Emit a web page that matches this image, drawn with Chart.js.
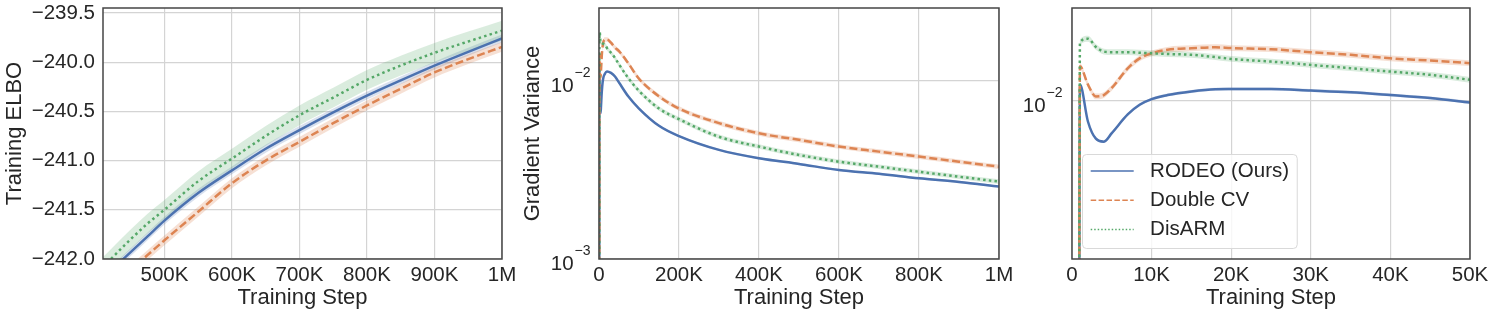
<!DOCTYPE html>
<html>
<head>
<meta charset="utf-8">
<script src="https://cdn.jsdelivr.net/npm/chart.js@4.4.0/dist/chart.umd.min.js"></script>
<style>
    html, body { margin: 0; padding: 0; background: #fff; }
    #wrap { position: relative; width: 1495px; height: 317px; }
    canvas { position: absolute; top: 0; }
</style>
</head>
<body>
<div id="wrap">
    <canvas id="elboChart" width="520" height="317" style="left:0"></canvas>
    <canvas id="varChart" width="500" height="317" style="left:520px"></canvas>
    <canvas id="zoomChart" width="475" height="317" style="left:1020px"></canvas>
</div>
<script>
const seriesNames = ['RODEO (Ours)', 'Double CV', 'DisARM'];

// Panel 1: training ELBO, 409K - 1M steps
const elboSteps = [409000, 425000, 450000, 475000, 500000, 550000, 600000, 650000, 700000, 750000, 800000, 850000, 900000, 950000, 1000000];
const elboRodeo = [-242.20, -242.09, -241.93, -241.77, -241.61, -241.33, -241.10, -240.88, -240.69, -240.51, -240.34, -240.185, -240.035, -239.895, -239.76];
const elboDoubleCV = [-242.38, -242.27, -242.11, -241.96, -241.81, -241.52, -241.23, -241.00, -240.81, -240.62, -240.44, -240.27, -240.105, -239.97, -239.845];
const elboDisarm = [-242.08, -241.97, -241.80, -241.64, -241.50, -241.21, -240.98, -240.75, -240.54, -240.36, -240.18, -240.035, -239.905, -239.79, -239.68];
const elboSpread = [0.04, 0.05, 0.10];
const elboYTicks = [-242.0, -241.5, -241.0, -240.5, -240.0, -239.5];
const elboYTickLabels = ['\u2212242.0', '\u2212241.5', '\u2212241.0', '\u2212240.5', '\u2212240.0', '\u2212239.5'];
const elboXTicks = [500000, 600000, 700000, 800000, 900000, 1000000];
const elboXTickLabels = ['500K', '600K', '700K', '800K', '900K', '1M'];

// Panel 2: gradient variance, full run
const varSteps = [700, 1000, 2000, 3000, 4000, 5000, 7000, 10000, 15000, 20000, 30000, 40000, 50000, 73000, 100000, 150000, 200000, 300000, 400000, 500000, 600000, 700000, 800000, 900000, 1000000];
const varRodeo = [0.0001, 0.0118, 0.0081, 0.0068, 0.0066, 0.0072, 0.0087, 0.0102, 0.0110, 0.0113, 0.0111, 0.0106, 0.0098, 0.0082, 0.0070, 0.0056, 0.0049, 0.0041, 0.00368, 0.00342, 0.00316, 0.00301, 0.00284, 0.00271, 0.00255];
const varDoubleCV = [0.0001, 0.0142, 0.0118, 0.01045, 0.0106, 0.0114, 0.0139, 0.0162, 0.0171, 0.0171, 0.0164, 0.0154, 0.0147, 0.0126, 0.0103, 0.0082, 0.0070, 0.0058, 0.00508, 0.00467, 0.00428, 0.00401, 0.00376, 0.00352, 0.0033];
const varDisarm = [0.0001, 0.0181, 0.0187, 0.0173, 0.0165, 0.0164, 0.0164, 0.0162, 0.0160, 0.0153, 0.0144, 0.01346, 0.0124, 0.0104, 0.0088, 0.0070, 0.0061, 0.00486, 0.00428, 0.00384, 0.00352, 0.0033, 0.00309, 0.0029, 0.00272];
const varSpread = [1.015, 1.03, 1.03];
const varXTicks = [0, 200000, 400000, 600000, 800000, 1000000];
const varXTickLabels = ['0', '200K', '400K', '600K', '800K', '1M'];
const varYTicks = [0.001, 0.01];
const varYTickExps = ['\u22123', '\u22122'];

// Panel 3: gradient variance, first 50K steps
const zoomSteps = [850, 1000, 2000, 3000, 4000, 5000, 7000, 8500, 10000, 12000, 15000, 18000, 20000, 25000, 30000, 35000, 40000, 45000, 50000];
const zoomRodeo = [0.0001, 0.0118, 0.0081, 0.0068, 0.0066, 0.0072, 0.0087, 0.0096, 0.01017, 0.0106, 0.0110, 0.01125, 0.01127, 0.01128, 0.0111, 0.0109, 0.0106, 0.01028, 0.00983];
const zoomDoubleCV = [0.0001, 0.0142, 0.0118, 0.01045, 0.0106, 0.0114, 0.0139, 0.0154, 0.0162, 0.0168, 0.01706, 0.01724, 0.0171, 0.0169, 0.0164, 0.01596, 0.0154, 0.01506, 0.01466];
const zoomDisarm = [0.0001, 0.0181, 0.0188, 0.0173, 0.0165, 0.0164, 0.0164, 0.0163, 0.0162, 0.0161, 0.01596, 0.0156, 0.01531, 0.0149, 0.01441, 0.01393, 0.01346, 0.01302, 0.01238];
const zoomXTicks = [0, 10000, 20000, 30000, 40000, 50000];
const zoomXTickLabels = ['0', '10K', '20K', '30K', '40K', '50K'];
const zoomYTicks = [0.01];
const zoomYTickExps = ['\u22122'];

const FONT = '"Liberation Sans", Arial, sans-serif';
const TEXT = '#262626';
const GRID = '#d4d4d4';
const FRAME = '#454545';
const COLORS = ['#4C72B0', '#DD8452', '#55A868'];
const BANDS = ['rgba(76,114,176,0.22)', 'rgba(221,132,82,0.25)', 'rgba(85,168,104,0.22)'];
const DASH = [[], [8, 3.5], [2.5, 3.2]];
const LEGEND_DASH = [[], [5.5, 2.4], [1.5, 2]];

Chart.defaults.font.family = FONT;
Chart.defaults.color = TEXT;

function toPoints(xs, ys) {
    return xs.map((x, i) => ({ x: x, y: ys[i] }));
}

/**
 * Line datasets (DisARM drawn on top) followed by the shaded bands.
 * log = true uses a multiplicative spread.
 */
function buildDatasets(xs, series, spreads, log) {
    const lines = [2, 1, 0].map(k => ({
        data: toPoints(xs, series[k]),
        borderColor: COLORS[k],
        borderWidth: 2.5,
        borderDash: DASH[k],
        borderCapStyle: 'butt',
        pointRadius: 0,
        fill: false,
        clip: 0,
        cubicInterpolationMode: 'monotone'
    }));
    const bands = [];
    [2, 1, 0].forEach(k => {
        const s = spreads[k];
        const lo = series[k].map(v => log ? v / s : v - s);
        const hi = series[k].map(v => log ? v * s : v + s);
        const common = { pointRadius: 0, borderWidth: 0, clip: 0, cubicInterpolationMode: 'monotone' };
        bands.push(Object.assign({ data: toPoints(xs, lo), fill: false }, common));
        bands.push(Object.assign({ data: toPoints(xs, hi), fill: '-1', backgroundColor: BANDS[k] }, common));
    });
    return lines.concat(bands);
}

function xAxis(ticks, labels, min, max) {
    return {
        type: 'linear',
        min: min,
        max: max,
        afterBuildTicks: s => { s.ticks = ticks.map(v => ({ value: v })); },
        afterFit: s => { s.height = 58; s.paddingLeft = 0; s.paddingRight = 0; },
        grid: { color: GRID, lineWidth: 1.2, drawTicks: false },
        border: { display: false },
        ticks: {
            padding: 4, color: TEXT, maxRotation: 0, autoSkip: false,
            font: { size: 20.5 },
            callback: (v, i) => labels[i]
        },
        title: { display: true, text: 'Training Step', color: TEXT, font: { size: 22 }, padding: { top: 0, bottom: 6 } }
    };
}

function logYAxis(ticks, min, max, width, title) {
    return {
        type: 'logarithmic',
        min: min,
        max: max,
        afterBuildTicks: s => { s.ticks = ticks.map(v => ({ value: v })); },
        afterFit: s => { s.width = width; s.paddingTop = 0; s.paddingBottom = 0; },
        grid: { color: GRID, lineWidth: 1.2, drawTicks: false },
        border: { display: false },
        ticks: { display: false },
        title: title
            ? { display: true, text: title, color: TEXT, font: { size: 22 }, padding: { top: 0 } }
            : { display: false }
    };
}

const framePlugin = {
    id: 'frame',
    afterDraw(chart) {
        const { ctx, chartArea: a } = chart;
        ctx.save();
        ctx.strokeStyle = FRAME;
        ctx.lineWidth = 1.5;
        ctx.strokeRect(a.left, a.top, a.right - a.left, a.bottom - a.top);
        ctx.restore();
    }
};

/**
 * Draws "10" with a raised exponent next to each log tick.
 */
function powerLabels(values, exps, gap) {
    return {
        id: 'powerLabels',
        afterDraw(chart) {
            const ctx = chart.ctx;
            const scale = chart.scales.y;
            const right = chart.chartArea.left - gap;
            ctx.save();
            ctx.fillStyle = TEXT;
            ctx.textAlign = 'left';
            ctx.textBaseline = 'alphabetic';
            values.forEach((v, i) => {
                const py = scale.getPixelForValue(v);
                ctx.font = '14px ' + FONT;
                const supW = ctx.measureText(exps[i]).width;
                ctx.font = '20.5px ' + FONT;
                const baseW = ctx.measureText('10').width;
                const x0 = right - supW - baseW - 1;
                ctx.fillText('10', x0, py + 11);
                ctx.font = '14px ' + FONT;
                ctx.fillText(exps[i], x0 + baseW + 1, py - 4);
            });
            ctx.restore();
        }
    };
}

const legendPlugin = {
    id: 'boxLegend',
    afterDraw(chart) {
        const { ctx, chartArea: a } = chart;
        const pad = 8.2, handle = 43, textGap = 16.4, rowH = 29.3;
        ctx.save();
        ctx.font = '20.5px ' + FONT;
        const textW = Math.max(...seriesNames.map(n => ctx.measureText(n).width));
        const w = pad + handle + textGap + textW + pad;
        const h = 94;
        const left = a.left + 10.5;
        const top = a.bottom - 10.5 - h;

        ctx.beginPath();
        ctx.roundRect(left, top, w, h, 4);
        ctx.fillStyle = 'rgba(255,255,255,0.8)';
        ctx.fill();
        ctx.strokeStyle = '#d9d9d9';
        ctx.lineWidth = 1;
        ctx.stroke();

        seriesNames.forEach((name, k) => {
            const y = top + 16.4 + k * rowH;
            ctx.beginPath();
            ctx.setLineDash(LEGEND_DASH[k]);
            ctx.strokeStyle = COLORS[k];
            ctx.lineWidth = 1.5;
            ctx.moveTo(left + pad, y);
            ctx.lineTo(left + pad + handle, y);
            ctx.stroke();
            ctx.setLineDash([]);
            ctx.fillStyle = TEXT;
            ctx.textAlign = 'left';
            ctx.textBaseline = 'middle';
            ctx.fillText(name, left + pad + handle + textGap, y);
        });
        ctx.restore();
    }
};

function baseOptions(padRight, scales) {
    return {
        responsive: false,
        animation: false,
        layout: { autoPadding: false, padding: { left: 0, right: padRight, top: 8, bottom: 0 } },
        plugins: { legend: { display: false }, tooltip: { enabled: false } },
        scales: scales
    };
}

function drawElboChart() {
    new Chart(document.getElementById('elboChart'), {
        type: 'line',
        data: { datasets: buildDatasets(elboSteps, [elboRodeo, elboDoubleCV, elboDisarm], elboSpread, false) },
        options: baseOptions(18, {
            x: xAxis(elboXTicks, elboXTickLabels, 409000, 1000000),
            y: {
                type: 'linear',
                min: -242.0,
                max: -239.45,
                afterBuildTicks: s => { s.ticks = elboYTicks.map(v => ({ value: v })); },
                afterFit: s => { s.width = 103; s.paddingTop = 0; s.paddingBottom = 0; },
                grid: { color: GRID, lineWidth: 1.2, drawTicks: false },
                border: { display: false },
                ticks: { padding: 8, color: TEXT, font: { size: 20.5 }, autoSkip: false, callback: (v, i) => elboYTickLabels[i] },
                title: { display: true, text: 'Training ELBO', color: TEXT, font: { size: 22 }, padding: { top: 2 } }
            }
        }),
        plugins: [framePlugin]
    });
}

function drawVarChart() {
    new Chart(document.getElementById('varChart'), {
        type: 'line',
        data: { datasets: buildDatasets(varSteps, [varRodeo, varDoubleCV, varDisarm], varSpread, true) },
        options: baseOptions(21, {
            x: xAxis(varXTicks, varXTickLabels, 0, 1000000),
            y: logYAxis(varYTicks, 0.001, 0.0257, 79, 'Gradient Variance')
        }),
        plugins: [framePlugin, powerLabels(varYTicks, varYTickExps, 8.5)]
    });
}

function drawZoomChart() {
    new Chart(document.getElementById('zoomChart'), {
        type: 'line',
        data: { datasets: buildDatasets(zoomSteps, [zoomRodeo, zoomDoubleCV, zoomDisarm], varSpread, true) },
        options: baseOptions(25, {
            x: xAxis(zoomXTicks, zoomXTickLabels, 0, 50000),
            y: logYAxis(zoomYTicks, 0.002, 0.0257, 52, null)
        }),
        plugins: [framePlugin, powerLabels(zoomYTicks, zoomYTickExps, 9.5), legendPlugin]
    });
}

drawElboChart();
drawVarChart();
drawZoomChart();
</script>
</body>
</html>
